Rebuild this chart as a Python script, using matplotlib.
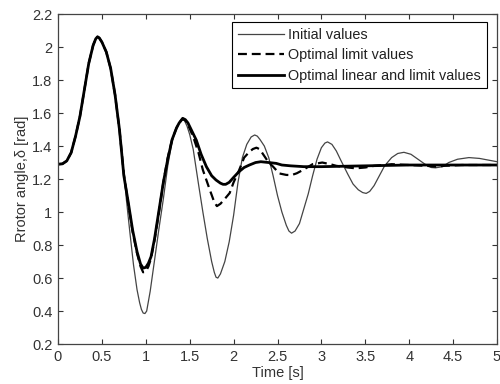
import matplotlib
matplotlib.use("Agg")
import matplotlib.pyplot as plt

plt.rcParams['font.family'] = ['Liberation Sans', 'DejaVu Sans']

# Initial values
t_init = [0.00, 0.05, 0.10, 0.15, 0.20, 0.25, 0.30, 0.35, 0.40, 0.43, 0.45, 0.47, 0.50, 0.55, 0.60,
          0.65, 0.70, 0.74, 0.78, 0.82, 0.86, 0.90, 0.93, 0.95, 0.97, 0.99, 1.01, 1.05, 1.10, 1.15,
          1.20, 1.25, 1.30, 1.35, 1.38, 1.41, 1.44, 1.47, 1.50, 1.54, 1.60, 1.65, 1.70, 1.75, 1.78,
          1.80, 1.82, 1.85, 1.90, 1.95, 2.00, 2.05, 2.10, 2.15, 2.20, 2.24, 2.27, 2.30, 2.35, 2.40,
          2.45, 2.50, 2.55, 2.60, 2.63, 2.66, 2.70, 2.75, 2.80, 2.85, 2.90, 2.95, 3.00, 3.04, 3.07,
          3.12, 3.17, 3.22, 3.30, 3.36, 3.42, 3.47, 3.51, 3.55, 3.60, 3.65, 3.72, 3.80, 3.87, 3.94,
          4.02, 4.10, 4.18, 4.25, 4.30, 4.38, 4.45, 4.55, 4.68, 4.80, 4.90, 5.00]
y_init = [1.29, 1.292, 1.31, 1.36, 1.46, 1.58, 1.74, 1.90, 2.01, 2.05, 2.062, 2.055, 2.03, 1.97, 1.87,
          1.71, 1.50, 1.29, 1.07, 0.87, 0.68, 0.53, 0.45, 0.41, 0.388, 0.385, 0.40, 0.52, 0.71, 0.90,
          1.08, 1.28, 1.43, 1.51, 1.54, 1.56, 1.555, 1.52, 1.47, 1.38, 1.17, 1.00, 0.84, 0.70, 0.635,
          0.605, 0.60, 0.625, 0.70, 0.82, 0.98, 1.18, 1.33, 1.41, 1.455, 1.467, 1.46, 1.44, 1.40, 1.33,
          1.22, 1.10, 1.00, 0.92, 0.885, 0.872, 0.885, 0.93, 1.02, 1.11, 1.22, 1.32, 1.39, 1.418, 1.425,
          1.41, 1.37, 1.315, 1.23, 1.17, 1.135, 1.118, 1.113, 1.125, 1.16, 1.21, 1.28, 1.33, 1.355, 1.362,
          1.35, 1.32, 1.29, 1.27, 1.268, 1.275, 1.30, 1.32, 1.33, 1.325, 1.315, 1.305]

# Optimal limit values
t_lim = [0.00, 0.05, 0.10, 0.15, 0.20, 0.25, 0.30, 0.35, 0.40, 0.43, 0.45, 0.47, 0.50, 0.55, 0.60,
         0.65, 0.70, 0.75, 0.80, 0.85, 0.90, 0.94, 0.97, 1.00, 1.03, 1.06, 1.10, 1.15, 1.20, 1.25,
         1.30, 1.35, 1.38, 1.42, 1.45, 1.48, 1.54, 1.60, 1.65, 1.73, 1.78, 1.81, 1.85, 1.90, 1.955,
         2.00, 2.06, 2.12, 2.18, 2.22, 2.26, 2.30, 2.33, 2.40, 2.45, 2.52, 2.60, 2.66, 2.72, 2.79,
         2.90, 3.01, 3.10, 3.17, 3.30, 3.39, 3.50, 3.60, 3.80, 4.00, 4.20, 4.30, 4.40, 4.60, 5.00]
y_lim = [1.29, 1.292, 1.31, 1.36, 1.46, 1.58, 1.74, 1.90, 2.01, 2.05, 2.062, 2.055, 2.03, 1.97, 1.87,
         1.71, 1.50, 1.23, 1.05, 0.88, 0.75, 0.67, 0.635, 0.64, 0.67, 0.72, 0.83, 1.00, 1.18, 1.33,
         1.44, 1.51, 1.54, 1.565, 1.555, 1.53, 1.456, 1.36, 1.255, 1.133, 1.06, 1.036, 1.05, 1.08, 1.115,
         1.18, 1.25, 1.33, 1.365, 1.382, 1.39, 1.38, 1.355, 1.30, 1.275, 1.234, 1.225, 1.224, 1.235, 1.255,
         1.29, 1.30, 1.29, 1.28, 1.27, 1.265, 1.27, 1.28, 1.29, 1.285, 1.28, 1.275, 1.28, 1.285, 1.285]

# Optimal linear and limit values
t_lin = [0.00, 0.05, 0.10, 0.15, 0.20, 0.25, 0.30, 0.35, 0.40, 0.43, 0.45, 0.47, 0.50, 0.55, 0.60,
         0.65, 0.70, 0.75, 0.80, 0.85, 0.90, 0.94, 0.97, 1.00, 1.03, 1.06, 1.10, 1.15, 1.20, 1.25,
         1.30, 1.35, 1.38, 1.42, 1.45, 1.48, 1.575, 1.63, 1.69, 1.75, 1.80, 1.85, 1.88, 1.91, 1.95,
         2.00, 2.06, 2.12, 2.18, 2.25, 2.31, 2.40, 2.485, 2.55, 2.65, 2.80, 3.00, 3.50, 4.00, 4.50, 5.00]
y_lin = [1.29, 1.292, 1.31, 1.36, 1.46, 1.58, 1.74, 1.90, 2.01, 2.05, 2.062, 2.055, 2.03, 1.97, 1.87,
         1.71, 1.50, 1.22, 1.06, 0.89, 0.76, 0.685, 0.66, 0.665, 0.69, 0.73, 0.84, 1.01, 1.18, 1.32,
         1.44, 1.51, 1.54, 1.568, 1.56, 1.54, 1.436, 1.35, 1.275, 1.22, 1.194, 1.175, 1.168, 1.168, 1.18,
         1.21, 1.244, 1.27, 1.285, 1.30, 1.305, 1.30, 1.295, 1.285, 1.28, 1.275, 1.275, 1.28, 1.285, 1.285, 1.285]

labels = ["Initial values", "Optimal limit values", "Optimal linear and limit values"]
x_ticks = [0, 0.5, 1, 1.5, 2, 2.5, 3, 3.5, 4, 4.5, 5]
x_ticklabels = ["0", "0.5", "1", "1.5", "2", "2.5", "3", "3.5", "4", "4.5", "5"]
y_ticks = [0.2, 0.4, 0.6, 0.8, 1.0, 1.2, 1.4, 1.6, 1.8, 2.0, 2.2]
y_ticklabels = ["0.2", "0.4", "0.6", "0.8", "1", "1.2", "1.4", "1.6", "1.8", "2", "2.2"]

fig = plt.figure(figsize=(5.0, 3.84), dpi=100)
ax = fig.add_axes([0.116, 0.104, 0.878, 0.8595])

ax.plot(t_init, y_init, color='#444444', lw=0.9, label=labels[0])
ax.plot(t_lim, y_lim, color='black', lw=1.6, ls=(0, (4, 2.2)), label=labels[1])
ax.plot(t_lin, y_lin, color='black', lw=2.0, label=labels[2])

ax.set_xlim(0, 5)
ax.set_ylim(0.2, 2.2)
ax.set_xticks(x_ticks)
ax.set_xticklabels(x_ticklabels)
ax.set_yticks(y_ticks)
ax.set_yticklabels(y_ticklabels)
ax.tick_params(direction='in', top=True, right=True, length=3.5, width=0.8,
               labelsize=10.5, colors='#333333', pad=4)
for s in ax.spines.values():
    s.set_color('#444444')
    s.set_linewidth(0.9)

ax.set_xlabel("Time [s]", fontsize=10.5, color='#333333', labelpad=2)
ax.set_ylabel("Rrotor angle,δ [rad]", fontsize=10.5, color='#333333', labelpad=2)

leg = ax.legend(loc='upper right', bbox_to_anchor=(0.977, 0.976), borderaxespad=0,
                fancybox=False, edgecolor='black', framealpha=1, fontsize=10.4,
                handlelength=3.2, handletextpad=0.3, borderpad=0.4, labelspacing=0.45)
leg.get_frame().set_linewidth(0.8)
for txt in leg.get_texts():
    txt.set_color('#222222')

fig.savefig("out.png", dpi=100)
